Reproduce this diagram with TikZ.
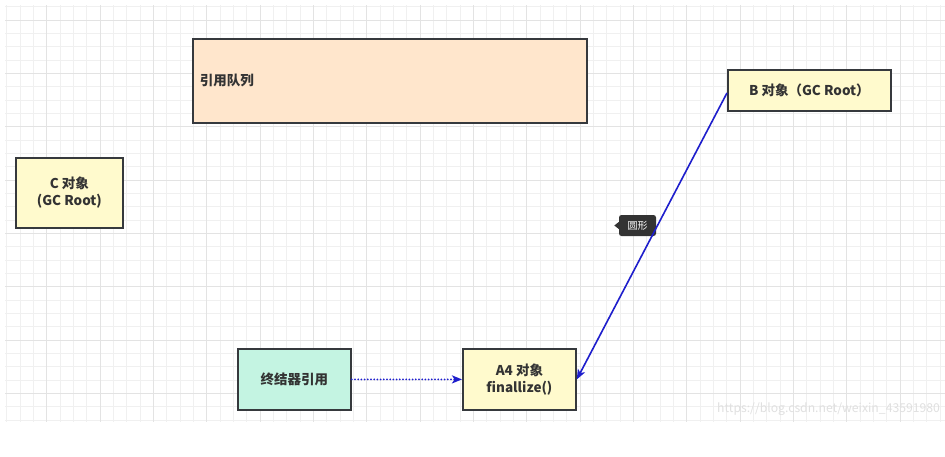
\documentclass[tikz,border=0pt]{standalone}
\usepackage{fontspec}
\setmainfont{Noto Sans CJK SC}
\usetikzlibrary{arrows.meta, positioning}
\definecolor{peachfill}{HTML}{FFE6CC}
\definecolor{rootfill}{HTML}{FFFACD}
\definecolor{mintfill}{HTML}{C4F4E2}
\definecolor{boxline}{HTML}{36393D}
\definecolor{refblue}{HTML}{1E1ECC}
\tikzset{
  gridminor/.style={draw=black!6, line width=0.8pt},
  gridmajor/.style={draw=black!11, line width=0.8pt},
  obj/.style={
    draw=boxline,
    line width=1.8pt,
    rectangle,
    anchor=north west,
    align=center,
    inner sep=0pt,
    text=black!80,
    font=\bfseries\fontsize{13.5}{17}\selectfont,
  },
  rootobj/.style={
    obj,
    fill=rootfill
  },
  queueobj/.style={
    obj,
    fill=peachfill,
    align=left
  },
  finalobj/.style={
    obj,
    fill=mintfill
  },
  tip/.style={
    fill=black!80,
    rounded corners=2.5pt,
    text=white,
    inner sep=0pt,
    minimum width=37pt,
    minimum height=21pt,
    font=\fontsize{10}{12}\selectfont
  },
  arrow/.style={
    -{Stealth[length=10pt, width=8pt, inset=2.5pt]},
    line width=1.6pt
  }
}

\begin{document}
\begin{tikzpicture}[x=1pt, y=-1pt]
\useasboundingbox (0,0) rectangle (945,456);
\fill[white] (0,0) rectangle (945,456);

% grid
\foreach \i in {0,...,70}
  \draw[gridminor] ({6.67+13.333*\i},5) -- ({6.67+13.333*\i},422);
\foreach \j in {0,...,31}
  \draw[gridminor] (5,{6.67+13.333*\j}) -- (945,{6.67+13.333*\j});
\foreach \i in {3,7,...,70}
  \draw[gridmajor] ({6.67+13.333*\i},5) -- ({6.67+13.333*\i},422);
\foreach \j in {1,5,...,31}
  \draw[gridmajor] (5,{6.67+13.333*\j}) -- (945,{6.67+13.333*\j});

% objects
\node[queueobj, minimum width=394pt, minimum height=84pt,
  text width=380pt, inner xsep=7pt] (queue) at (192,38) {引用队列};
\node[rootobj, minimum width=163pt, minimum height=41pt] (bobj) at (727,69) {B 对象（GC Root）};
\node[rootobj, minimum width=107pt, minimum height=70pt] (cobj) at (15,157) {C 对象\\(GC Root)};
\node[finalobj, minimum width=113pt, minimum height=61pt] (finref) at (237,348) {终结器引用};
\node[rootobj, minimum width=113pt, minimum height=61pt] (aobj) at (462,348) {A4 对象\\finallize()};

% tooltip
\node[tip] (hint) at (637.5,225.5) {圆形};
\fill[black!80] ([yshift=3.5pt]hint.west) -- ++(-4.5,3.5) -- ++(4.5,3.5) -- cycle;

% references
\draw[arrow, refblue] ([yshift=-2.5pt]bobj.west) -- (aobj.east);
\draw[arrow, refblue, line width=2pt, line cap=round, dash pattern=on 0pt off 3.2pt] (finref) -- (aobj);

% watermark
\node[anchor=west, text=black!12, font=\fontsize{12.2}{14}\selectfont, inner sep=0pt] (mark) at (717,409) {https://blog.csdn.net/weixin\_43591980};
\end{tikzpicture}
\end{document}
